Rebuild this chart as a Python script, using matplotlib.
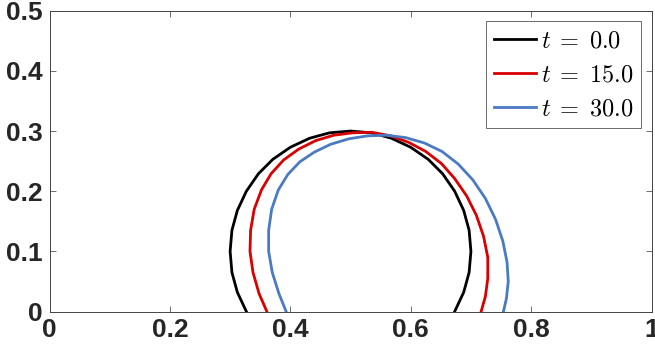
import matplotlib
matplotlib.use("Agg")
import matplotlib.pyplot as plt

# Tropfenkonturen (x, y)
x_t0 = [0.327, 0.312, 0.303, 0.300, 0.303, 0.312, 0.327, 0.347, 0.371, 0.400, 0.432, 0.465, 0.500,
        0.535, 0.568, 0.600, 0.629, 0.653, 0.673, 0.688, 0.697, 0.700, 0.697, 0.688, 0.673]
y_t0 = [0.000, 0.032, 0.065, 0.100, 0.135, 0.168, 0.200, 0.229, 0.253, 0.273, 0.288, 0.297, 0.300,
        0.297, 0.288, 0.273, 0.253, 0.229, 0.200, 0.168, 0.135, 0.100, 0.065, 0.032, 0.000]

x_t15 = [0.361, 0.348, 0.338, 0.333, 0.334, 0.340, 0.352, 0.368, 0.389, 0.414, 0.442, 0.472, 0.503,
         0.535, 0.567, 0.597, 0.625, 0.651, 0.673, 0.693, 0.709, 0.721, 0.728, 0.728, 0.724, 0.717]
y_t15 = [0.000, 0.030, 0.065, 0.100, 0.135, 0.170, 0.202, 0.229, 0.252, 0.270, 0.284, 0.293, 0.297,
         0.298, 0.292, 0.281, 0.266, 0.246, 0.221, 0.192, 0.160, 0.125, 0.090, 0.055, 0.025, 0.000]

x_t30 = [0.393, 0.381, 0.370, 0.364, 0.364, 0.369, 0.380, 0.396, 0.416, 0.440, 0.467, 0.497, 0.528,
         0.560, 0.592, 0.623, 0.652, 0.679, 0.703, 0.724, 0.741, 0.753, 0.760, 0.762, 0.759, 0.754]
y_t30 = [0.000, 0.030, 0.065, 0.100, 0.135, 0.170, 0.202, 0.228, 0.249, 0.265, 0.278, 0.287, 0.292,
         0.293, 0.289, 0.280, 0.266, 0.245, 0.219, 0.188, 0.153, 0.117, 0.082, 0.050, 0.022, 0.000]

labels = [r"$t\;=\;0.0$", r"$t\;=\;15.0$", r"$t\;=\;30.0$"]
colors = ["black", "#D90000", "#4A7BC2"]

plt.rcParams["mathtext.fontset"] = "cm"

fig = plt.figure(figsize=(6.55, 3.49), dpi=100)
ax = fig.add_axes([0.0756, 0.1074, 0.9191, 0.8619])

for xs, ys, lab, c in zip([x_t0, x_t15, x_t30], [y_t0, y_t15, y_t30], labels, colors):
    ax.plot(xs, ys, color=c, lw=2.0, label=lab, solid_joinstyle="round")

ax.set_xlim(0, 1)
ax.set_ylim(0, 0.5)
ax.set_xticks([0, 0.2, 0.4, 0.6, 0.8, 1])
ax.set_xticklabels(["0", "0.2", "0.4", "0.6", "0.8", "1"])
ax.set_yticks([0, 0.1, 0.2, 0.3, 0.4, 0.5])
ax.set_yticklabels(["0", "0.1", "0.2", "0.3", "0.4", "0.5"])
ax.tick_params(direction="in", length=4, width=0.6, color="#555555",
               top=True, right=True, labelsize=19, pad=5)
for lbl in ax.get_xticklabels() + ax.get_yticklabels():
    lbl.set_fontfamily("Liberation Sans")
    lbl.set_fontweight("bold")
    lbl.set_color("#262626")
for sp in ax.spines.values():
    sp.set_linewidth(0.7)
    sp.set_color("#444444")

leg = ax.legend(loc="upper right", fontsize=17.5, frameon=True, fancybox=False,
                handlelength=1.75, handletextpad=0.22, borderpad=0.3,
                labelspacing=0.42, borderaxespad=0.43)
leg.get_frame().set_edgecolor("#444444")
leg.get_frame().set_linewidth(0.7)

fig.savefig("out.png", dpi=100)
